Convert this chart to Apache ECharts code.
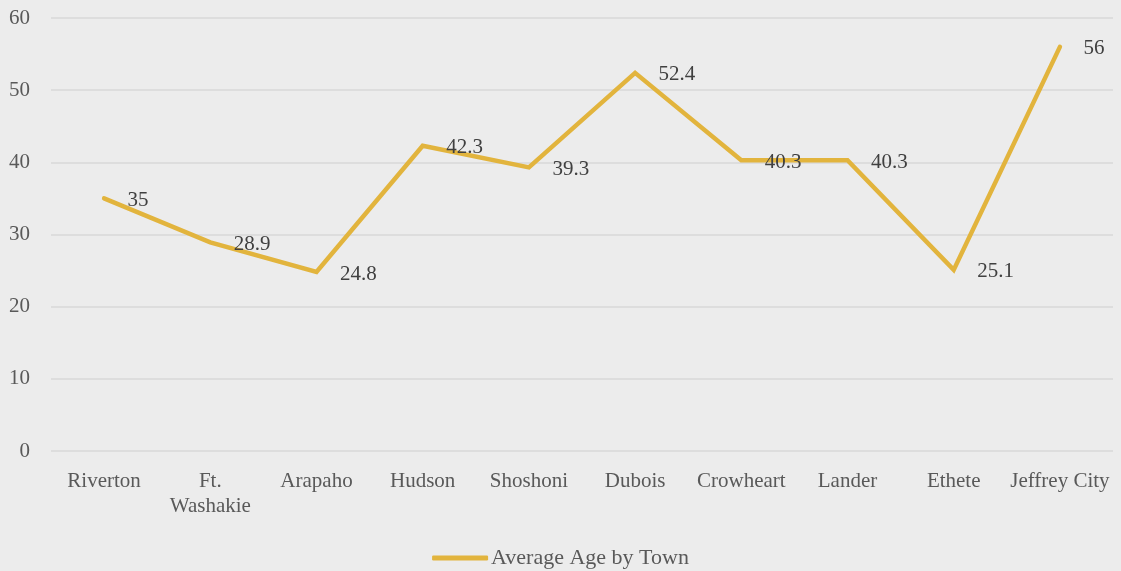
<!DOCTYPE html>
<html>
<head>
<meta charset="utf-8">
<script src="https://cdn.jsdelivr.net/npm/echarts@6/dist/echarts.min.js"></script>
<style>
  html,body{margin:0;padding:0;background:#ececec}
  #chart{width:1121px;height:571px}
</style>
</head>
<body>
<div id="chart"></div>
<script>
let towns = ['Riverton','Ft.\nWashakie','Arapaho','Hudson','Shoshoni','Dubois','Crowheart','Lander','Ethete','Jeffrey City']
let ages = [35, 28.9, 24.8, 42.3, 39.3, 52.4, 40.3, 40.3, 25.1, 56]
let seriesName = 'Average Age by Town'

let font = '"Liberation Serif", "DejaVu Serif", serif'
let myChart = echarts.init(document.getElementById('chart'))
let option = {
  backgroundColor:'#ececec',
  animation:false,
  textStyle:{ fontFamily:font },
  grid:{
    left:51,
    right:8,
    top:18,
    bottom:120
  },
  legend:{
    bottom:-3,
    left:'center',
    icon:'roundRect',
    itemWidth:56,
    itemHeight:5,
    itemGap:0,
    textStyle:{ fontFamily:font, fontSize:22, color:'#595959', padding:[0,0,0,-2] },
    data:[seriesName]
  },
  xAxis:{
    type:'category',
    data:towns,
    boundaryGap:true,
    axisLine:{ show:false },
    axisTick:{ show:false },
    axisLabel:{
      interval:0,
      margin:18,
      fontFamily:font,
      fontSize:21,
      lineHeight:25,
      color:'#595959'
    }
  },
  yAxis:{
    type:'value',
    min:0,
    max:60,
    interval:10,
    axisLine:{ show:false },
    axisTick:{ show:false },
    splitLine:{ lineStyle:{ color:'#d9d9d9', width:1.5 } },
    axisLabel:{
      margin:21,
      fontFamily:font,
      fontSize:21,
      color:'#595959'
    }
  },
  series:[{
    name:seriesName,
    type:'line',
    data:ages,
    symbol:'circle',
    symbolSize:1,
    showSymbol:true,
    itemStyle:{ color:'#e2b43d' },
    lineStyle:{ color:'#e2b43d', width:4.5, join:'miter', cap:'round' },
    label:{
      show:true,
      position:'right',
      distance:23,
      offset:[0,2],
      fontFamily:font,
      fontSize:21,
      color:'#404040'
    }
  }]
}
myChart.setOption(option)
</script>
</body>
</html>
